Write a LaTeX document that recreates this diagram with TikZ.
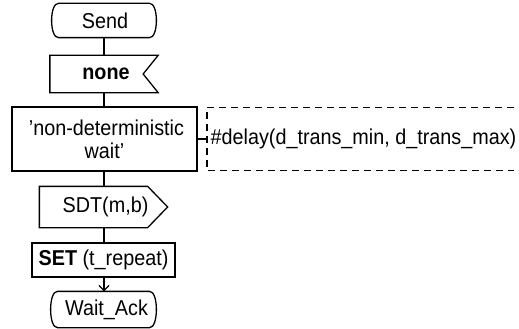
\documentclass[tikz,border=0pt]{standalone}
\usepackage{fontspec}
\setmainfont[FakeStretch=0.92]{Liberation Sans}
\usetikzlibrary{arrows.meta}
\begin{document}
\begin{tikzpicture}[x=1pt,y=-1pt,line width=1.3pt,
  lbl/.style={inner sep=0pt,font=\fontsize{21.5}{23}\selectfont,align=center},
  sdlbox/.style={lbl,draw},
  conn/.style={line width=1.3pt},
  cmt/.style={dash pattern=on 7pt off 5pt,line width=1.2pt}]
\useasboundingbox (0,0) rectangle (519,329);
% Send (state)
\node[lbl,minimum width=106pt,minimum height=33pt] (send) at (104,20.5) {\hspace*{2pt}Send};
\draw ([xshift=8pt]send.north west) -- ([xshift=-8pt]send.north east)
  .. controls ([xshift=1pt]send.north east) and ([xshift=1pt]send.south east) .. ([xshift=-8pt]send.south east)
  -- ([xshift=8pt]send.south west)
  .. controls ([xshift=-1pt]send.south west) and ([xshift=-1pt]send.north west) .. cycle;
% none (input)
\node[lbl,minimum width=107pt,minimum height=36pt] (none) at (104,74) {\hspace*{4pt}\textbf{none}};
\draw (none.north west) -- (none.north east) -- ([xshift=-15pt]none.east) -- (none.south east) -- (none.south west) -- cycle;
% task
\node[sdlbox,minimum width=185pt,minimum height=64pt] (task) at (104.5,139) {\hspace*{4pt}'non-deterministic\\wait'};
% comment
\node[lbl,anchor=west,minimum width=306pt,minimum height=62pt,inner xsep=3pt] (comment) at (207,139) {\makebox[300pt][l]{\#delay(d\_trans\_min, d\_trans\_max)}};
\draw[cmt] (comment.north east) -- (comment.north west) -- (comment.south west) -- (comment.south east);
\draw[conn] (task.east) -- (comment.west);
% SDT (output)
\node[lbl,minimum width=127pt,minimum height=40pt] (sdt) at (103.5,207) {\hspace*{4pt}SDT(m,b)};
\draw (sdt.north west) -- ([xshift=-20pt]sdt.north east) -- (sdt.east) -- ([xshift=-20pt]sdt.south east) -- (sdt.south west) -- cycle;
% SET
\node[sdlbox,minimum width=143pt,minimum height=34pt] (set) at (103.5,260) {\textbf{SET} (t\_repeat)};
% Wait_Ack (state)
\node[lbl,minimum width=107pt,minimum height=35pt] (wait) at (103.5,309.5) {\hspace*{6pt}Wait\_Ack};
\draw ([xshift=8pt]wait.north west) -- ([xshift=-8pt]wait.north east)
  .. controls ([xshift=1pt]wait.north east) and ([xshift=1pt]wait.south east) .. ([xshift=-8pt]wait.south east)
  -- ([xshift=8pt]wait.south west)
  .. controls ([xshift=-1pt]wait.south west) and ([xshift=-1pt]wait.north west) .. cycle;
% connectors
\draw[conn] (send.south) -- (send.south |- none.north);
\draw[conn] (none.south) -- (none.south |- task.north);
\draw[conn] (none.south |- task.south) -- (none.south |- sdt.north);
\draw[conn] (none.south |- sdt.south) -- (none.south |- set.north);
\draw[conn,-{Straight Barb[length=5pt,width=10pt]}] (none.south |- set.south) -- (none.south |- wait.north);
\end{tikzpicture}
\end{document}
